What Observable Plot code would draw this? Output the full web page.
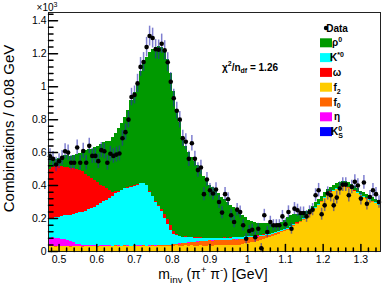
<!DOCTYPE html>
<html><head><meta charset="utf-8">
<script src="https://cdn.jsdelivr.net/npm/d3@7"></script>
<script src="https://cdn.jsdelivr.net/npm/@observablehq/plot@0.6"></script>
<style>
html,body{margin:0;padding:0;background:#fff;}
svg{display:block;}
</style></head><body><div id="chart"></div>
<script>
// ---- binning (GeV) ----
const binLow = 0.472, binWidth = 0.008;
const xDomain = [0.472, 1.352];
const yDomain = [0, 1.45];

// ---- stacked components (x10^3 combinations per bin), bottom -> top ----
const f2 = [
0.028,0.030,0.027,0.029,0.028,0.030,0.028,0.027,0.029,0.028,
0.029,0.027,0.028,0.030,0.028,0.029,0.027,0.028,0.030,0.029,
0.030,0.029,0.031,0.030,0.029,0.031,0.030,0.029,0.031,0.030,
0.030,0.031,0.029,0.030,0.031,0.030,0.032,0.030,0.031,0.032,
0.033,0.032,0.034,0.033,0.032,0.034,0.033,0.034,0.032,0.033,
0.034,0.033,0.032,0.034,0.033,0.034,0.035,0.034,0.036,0.035,
0.036,0.038,0.037,0.039,0.042,0.046,0.050,0.053,0.056,0.062,
0.068,0.074,0.078,0.083,0.089,0.095,0.104,0.113,0.122,0.130,
0.140,0.152,0.163,0.175,0.190,0.205,0.220,0.240,0.260,0.280,
0.300,0.320,0.340,0.355,0.365,0.375,0.383,0.390,0.390,0.385,
0.375,0.362,0.350,0.338,0.328,0.318,0.310,0.300,0.290,0.280];
const f0 = [
0.003,0.003,0.003,0.003,0.003,0.003,0.003,0.003,0.003,0.003,
0.003,0.003,0.003,0.003,0.003,0.003,0.003,0.003,0.003,0.003,
0.003,0.003,0.003,0.003,0.003,0.003,0.003,0.003,0.003,0.003,
0.003,0.003,0.003,0.003,0.003,0.003,0.005,0.005,0.005,0.005,
0.005,0.008,0.010,0.012,0.014,0.016,0.018,0.020,0.022,0.024,
0.025,0.027,0.028,0.030,0.030,0.030,0.032,0.032,0.032,0.032,
0.032,0.032,0.032,0.032,0.032,0.032,0.032,0.030,0.028,0.025,
0.022,0.020,0.018,0.016,0.014,0.012,0.010,0.009,0.008,0.006,
0.005,0.005,0.004,0.004,0.003,0.002,0.002,0.002,0.002,0.002,
0.002,0.002,0.002,0.002,0.002,0.002,0.002,0.002,0.002,0.002,
0.002,0.002,0.002,0.002,0.002,0.002,0.002,0.002,0.002,0.002];
const eta = [
0.050,0.050,0.048,0.045,0.042,0.040,0.035,0.028,0.020,0.013,
0.008,0.005,0.003,0.003,0.003,0.003,0.003,0.003,0.003,0.003,
0.003,0.001,0.001,0.001,0.001,0.001,0.001,0.001,0.001,0.001,
0.001,0.001,0.001,0.001,0.001,0.001,0.001,0.001,0.001,0.001,
0.001,0.001,0.001,0.001,0.001,0.001,0.001,0.001,0.001,0.001,
0.001,0.001,0.001,0.001,0.001,0.001,0.001,0.001,0.001,0.001,
0.001,0.001,0.001,0.001,0.001,0.001,0.001,0.001,0.001,0.001,
0,0,0,0,0,0,0,0,0,0,
0,0,0,0,0,0,0,0,0,0,
0,0,0,0,0,0,0,0,0,0,
0,0,0,0,0,0,0,0,0,0];
const k0s = [
0,0,0.002,0.002,0.002,0,0,0,0,0,
0,0,0,0,0,0,0,0,0,0,
0,0,0,0,0,0,0,0,0,0,
0,0,0,0,0,0,0,0,0,0,
0,0,0,0,0,0,0,0,0,0,
0,0,0,0,0,0,0,0,0,0,
0,0,0,0,0,0,0,0,0,0,
0,0,0,0,0,0,0,0,0,0,
0,0,0,0,0,0,0,0,0,0,
0,0,0,0,0,0,0,0,0,0,
0,0,0,0,0,0,0,0,0,0];
const kstar0 = [
0.119,0.119,0.126,0.129,0.137,0.144,0.154,0.161,0.174,0.186,
0.196,0.204,0.211,0.216,0.226,0.231,0.246,0.256,0.266,0.276,
0.284,0.301,0.316,0.326,0.336,0.346,0.351,0.356,0.361,0.366,
0.376,0.376,0.366,0.326,0.296,0.266,0.234,0.204,0.164,0.124,
0.091,0.063,0.051,0.042,0.037,0.034,0.031,0.028,0.025,0.022,
0.020,0.017,0.016,0.014,0.014,0.014,0.012,0.012,0.012,0.012,
0.012,0.012,0.012,0.012,0.010,0.010,0.009,0.008,0.007,0.006,
0.006,0.006,0.006,0.006,0.006,0.006,0.005,0.005,0.005,0.005,
0.005,0.005,0.005,0.005,0.005,0.005,0.003,0.003,0.003,0.003,
0.003,0.003,0.003,0.003,0.003,0.003,0.003,0.003,0.003,0.003,
0.003,0.003,0.003,0.003,0.003,0.003,0.003,0.003,0.003,0.003];
const omega = [
0.300,0.310,0.310,0.310,0.305,0.295,0.290,0.285,0.275,0.265,
0.255,0.245,0.225,0.205,0.180,0.165,0.140,0.110,0.090,0.070,
0.050,0.025,0.010,0.006,0.004,0.004,0.004,0.004,0.004,0.004,
0.004,0.004,0.004,0.004,0.004,0.006,0.010,0.016,0.025,0.030,
0.030,0.018,0.008,0.003,0.003,0.003,0.003,0.003,0.003,0.003,
0.003,0.001,0.001,0.001,0.001,0.001,0.001,0.001,0.001,0.001,
0.001,0.001,0.001,0.001,0.001,0.001,0.001,0.001,0.001,0.001,
0.001,0.001,0.001,0.001,0.001,0.001,0.001,0.001,0.001,0.001,
0.001,0.001,0.001,0.001,0.001,0.001,0.001,0.001,0.001,0.001,
0.001,0.001,0.001,0.001,0.001,0.001,0.001,0.001,0.001,0.001,
0.001,0.001,0.001,0.001,0.001,0.001,0.001,0.001,0.001,0.001];
const rho0 = [
0.090,0.060,0.045,0.045,0.055,0.070,0.070,0.070,0.080,0.095,
0.105,0.115,0.140,0.160,0.180,0.200,0.220,0.250,0.270,0.285,
0.300,0.330,0.355,0.379,0.401,0.426,0.466,0.526,0.566,0.616,
0.676,0.726,0.771,0.846,0.891,0.929,0.960,0.979,0.985,0.970,
0.920,0.847,0.757,0.689,0.612,0.548,0.514,0.485,0.466,0.437,
0.408,0.376,0.351,0.321,0.311,0.291,0.269,0.249,0.234,0.219,
0.199,0.181,0.171,0.151,0.134,0.115,0.097,0.087,0.082,0.075,
0.072,0.068,0.064,0.061,0.054,0.050,0.049,0.049,0.053,0.067,
0.068,0.061,0.054,0.044,0.035,0.030,0.028,0.028,0.030,0.030,
0.030,0.030,0.030,0.030,0.030,0.030,0.028,0.027,0.026,0.025,
0.025,0.024,0.024,0.023,0.023,0.022,0.022,0.022,0.021,0.021];

// ---- data points and their errors ----
const dataVals = [
0.578,0.562,0.528,0.548,0.568,0.608,0.600,0.538,0.538,0.631,
0.538,0.610,0.538,0.641,0.580,0.580,0.548,0.615,0.608,0.538,
0.593,0.580,0.588,0.595,0.687,0.724,0.800,0.937,0.950,1.020,
1.120,1.150,1.240,1.307,1.295,1.227,1.224,1.260,1.220,1.148,
1.030,0.930,0.854,0.800,0.687,0.666,0.562,0.657,0.562,0.494,
0.509,0.348,0.437,0.372,0.352,0.376,0.300,0.236,0.348,0.317,
0.220,0.179,0.254,0.240,0.159,0.077,0.124,0.132,0.087,0.138,
0.020,0.220,0.118,0.179,0.159,0.159,0.159,0.213,0.165,0.240,
0.138,0.260,0.250,0.234,0.234,0.213,0.240,0.254,0.341,0.372,
0.226,0.280,0.352,0.341,0.280,0.327,0.382,0.406,0.406,0.341,
0.392,0.423,0.400,0.321,0.419,0.290,0.331,0.372,0.348,0.300];
const dataErr = [
0.045,0.045,0.044,0.045,0.045,0.046,0.046,0.044,0.044,0.046,
0.044,0.046,0.044,0.046,0.045,0.045,0.044,0.046,0.046,0.044,
0.045,0.045,0.045,0.045,0.048,0.049,0.050,0.053,0.054,0.055,
0.057,0.057,0.059,0.060,0.060,0.059,0.059,0.059,0.059,0.058,
0.056,0.054,0.052,0.050,0.048,0.048,0.046,0.047,0.046,0.044,
0.044,0.040,0.042,0.041,0.040,0.041,0.039,0.037,0.040,0.039,
0.036,0.035,0.037,0.036,0.034,0.031,0.033,0.033,0.031,0.033,
0.028,0.036,0.033,0.035,0.034,0.034,0.034,0.036,0.034,0.037,
0.033,0.037,0.037,0.036,0.036,0.036,0.037,0.037,0.040,0.041,
0.036,0.038,0.040,0.040,0.038,0.039,0.041,0.042,0.042,0.040,
0.041,0.042,0.041,0.039,0.042,0.038,0.039,0.041,0.040,0.038];

// ---- legend / labels ----
const compNames = ["f2","f0","eta","K0S","Kstar0","omega","rho0"];      // stacking order
const compColors = ["#ffcc00","#ff6600","#ff00ff","#0000ff","#00ffff","#ff0000","#009900"];
const compSeries = [f2, f0, eta, k0s, kstar0, omega, rho0];
const legendOrder = ["rho0","Kstar0","omega","f2","f0","eta","K0S"];
const legendText = {rho0:"ρ^{0}", Kstar0:"K^{*0}", omega:"ω", f2:"f_{2}", f0:"f_{0}", eta:"η", K0S:"K^{0}_{S}"};
const dataLabel = "Data";
const chiText = "χ^{2}/n_{df} = 1.26";
const xTitle = "m_{inv} (π^{+} π^{-}) [GeV]";
const yTitle = "Combinations / 0.08 GeV";
const expText = "×10^{3}";
const xTicks = [0.5,0.6,0.7,0.8,0.9,1.0,1.1,1.2,1.3];
const xTickLabels = ["0.5","0.6","0.7","0.8","0.9","1","1.1","1.2","1.3"];
const yTicks = [0,0.2,0.4,0.6,0.8,1.0,1.2,1.4];
const yTickLabels = ["0","0.2","0.4","0.6","0.8","1","1.2","1.4"];
const xMinor = d3.range(0.48, 1.3501, 0.02).filter(v => !xTicks.some(t => Math.abs(t - v) < 1e-6));
const yMinor = d3.range(0.04, 1.4401, 0.04).filter(v => !yTicks.some(t => Math.abs(t - v) < 1e-6));

// ---- build tables ----
const stackRows = [];
compSeries.forEach((arr, c) => arr.forEach((v, i) => {
  const lo = +(binLow + i * binWidth).toFixed(4);
  stackRows.push({lo, hi: +(lo + binWidth).toFixed(4), comp: compNames[c], v});
}));
const dataRows = dataVals.map((v, i) => ({x: binLow + (i + 0.5) * binWidth, v, e: dataErr[i]}));

const FONT = "'Liberation Sans', Arial, Helvetica, sans-serif";
const tickShape = {draw(ctx, l) { ctx.moveTo(0, 0); ctx.lineTo(0, -l); }};

const plot = Plot.plot({
  width: 382, height: 284,
  marginLeft: 48, marginRight: 2, marginTop: 12, marginBottom: 33,
  style: {fontFamily: FONT, fontSize: "10.5px", background: "white", color: "black"},
  x: {domain: xDomain, axis: null},
  y: {domain: yDomain, axis: null},
  color: {domain: compNames, range: compColors},
  marks: [
    Plot.rectY(stackRows, {x1: "lo", x2: "hi", y: "v", fill: "comp", order: compNames, shapeRendering: "crispEdges"}),
    Plot.ruleX(dataRows, {x: "x", y1: d => d.v - d.e, y2: d => d.v + d.e, stroke: "#2a2ab0", strokeOpacity: 0.6, strokeWidth: 1.5, clip: true}),
    Plot.dot(dataRows, {x: "x", y: "v", r: 2.3, fill: "black"}),
    Plot.frame({stroke: "#222", strokeWidth: 1}),
    Plot.vector(xTicks, {x: d => d, y: yDomain[0], length: 7, rotate: 0, anchor: "start", shape: tickShape, stroke: "black"}),
    Plot.vector(xMinor, {x: d => d, y: yDomain[0], length: 3.5, rotate: 0, anchor: "start", shape: tickShape, stroke: "black"}),
    Plot.vector(yTicks, {x: xDomain[0], y: d => d, length: 9, rotate: 90, anchor: "start", shape: tickShape, stroke: "black"}),
    Plot.vector(yMinor, {x: xDomain[0], y: d => d, length: 4.5, rotate: 90, anchor: "start", shape: tickShape, stroke: "black"}),
    Plot.axisX(xTicks, {tickSize: 0, tickPadding: 4, label: null, tickFormat: (d, i) => xTickLabels[i], fontSize: 10.5}),
    Plot.axisY(yTicks, {tickSize: 0, tickPadding: 2, label: null, tickFormat: (d, i) => yTickLabels[i], fontSize: 10.5})
  ]
});
document.getElementById("chart").appendChild(plot);

// ---- rich text helpers ----
function rich(sel, str, size) {
  const re = /(\^|_)\{([^}]*)\}|([^\^_]+)/g;
  let m, cur = 0, prev = null;
  while ((m = re.exec(str))) {
    const p = m[3] != null ? {t: m[3], s: 0} : {t: m[2], s: m[1] === "^" ? -1 : 1};
    const shift = p.s === -1 ? -0.42 * size : p.s === 1 ? 0.28 * size : 0;
    const ts = sel.append("tspan").attr("dy", shift - cur).attr("font-size", p.s ? size * 0.7 : size).text(p.t);
    if (prev && prev.s === -1 && p.s === 1) ts.attr("dx", -prev.t.length * size * 0.7 * 0.56);
    cur = shift; prev = p;
  }
}

const svg = d3.select(plot);
const sx = plot.scale("x"), sy = plot.scale("y");
const [px0, px1] = sx.range, [py0, py1] = sy.range;

// axis titles
rich(svg.append("text").attr("x", (px0 + px1) / 2 - 1).attr("y", 279).attr("text-anchor", "middle")
  .attr("font-family", FONT).attr("font-size", 14).attr("fill", "black"), xTitle, 14);
svg.append("text").attr("transform", `translate(13.5,${(py0 + py1) / 2 - 3}) rotate(-90)`).attr("text-anchor", "middle")
  .attr("font-family", FONT).attr("font-size", 15).attr("fill", "black").text(yTitle);
rich(svg.append("text").attr("x", px0 - 1).attr("y", 11).attr("font-family", FONT).attr("font-size", 10).attr("fill", "black"), expText, 10);

// chi2 label
rich(svg.append("text").attr("x", 250).attr("y", 70.5).attr("font-family", FONT).attr("font-weight", "bold")
  .attr("font-size", 10).attr("fill", "black"), chiText, 10);

// legend
const lg = svg.append("g").attr("font-family", FONT).attr("font-weight", "bold").attr("font-size", 10).attr("fill", "black");
const lx = 320, ly = 28, ls = 14.8;
lg.append("circle").attr("cx", lx + 6).attr("cy", ly).attr("r", 2.2).attr("fill", "black");
lg.append("text").attr("x", lx + 17).attr("y", ly + 3.6).text(dataLabel);
legendOrder.forEach((name, k) => {
  const y = ly + ls * (k + 1);
  lg.append("rect").attr("x", lx).attr("y", y - 4.5).attr("width", 12).attr("height", 9)
    .attr("fill", compColors[compNames.indexOf(name)]);
  rich(lg.append("text").attr("x", lx + 17).attr("y", y + 3.6), legendText[name], 10);
});
</script></body></html>
